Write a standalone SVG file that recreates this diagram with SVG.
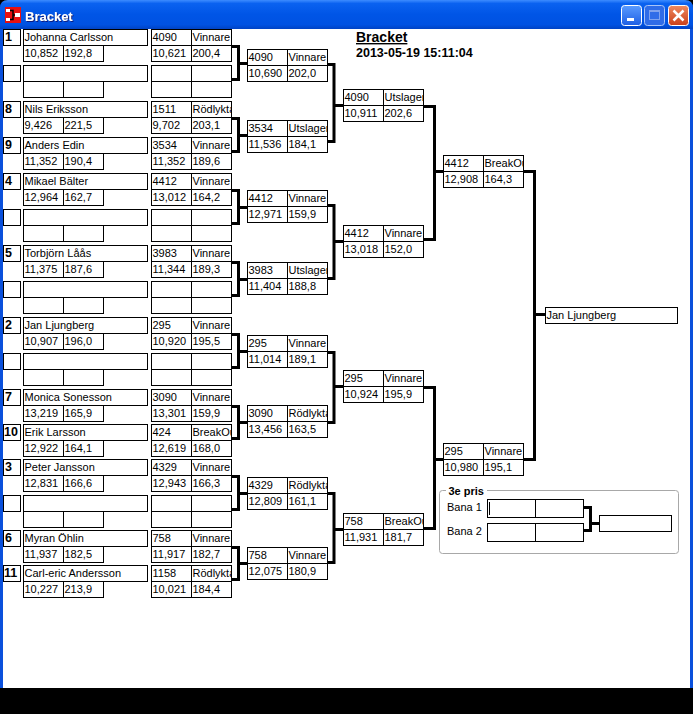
<svg xmlns="http://www.w3.org/2000/svg" width="693" height="714" viewBox="0 0 693 714">
<defs>
<style>
.c{fill:#fff;stroke:#000;stroke-width:1}
.t{font-family:"Liberation Sans",Arial,sans-serif;font-size:11px;fill:#000}
.s{font-family:"Liberation Sans",Arial,sans-serif;font-size:12.5px;font-weight:bold;fill:#000}
.ln{fill:none;stroke:#000;stroke-width:3;stroke-linejoin:miter;stroke-linecap:butt}
.w1{clip-path:url(#cw1)}.w2{clip-path:url(#cw2)}.w3{clip-path:url(#cw3)}.w4{clip-path:url(#cw4)}
</style>
<clipPath id="cw1" clipPathUnits="userSpaceOnUse"><rect x="192" y="0" width="39" height="714"/></clipPath>
<clipPath id="cw2" clipPathUnits="userSpaceOnUse"><rect x="288" y="0" width="39" height="714"/></clipPath>
<clipPath id="cw3" clipPathUnits="userSpaceOnUse"><rect x="384" y="0" width="39" height="714"/></clipPath>
<clipPath id="cw4" clipPathUnits="userSpaceOnUse"><rect x="484" y="0" width="39" height="714"/></clipPath>
<linearGradient id="tb" x1="0" y1="0" x2="0" y2="1">
<stop offset="0" stop-color="#3D8CFF"/><stop offset="0.12" stop-color="#0A62F0"/><stop offset="0.5" stop-color="#0055E6"/><stop offset="0.85" stop-color="#0052E2"/><stop offset="1" stop-color="#0043C4"/>
</linearGradient>
<linearGradient id="bb" x1="0" y1="0" x2="0" y2="1"><stop offset="0" stop-color="#5A9BFF"/><stop offset="1" stop-color="#1E5FE4"/></linearGradient>
<linearGradient id="bx" x1="0" y1="0" x2="0" y2="1"><stop offset="0" stop-color="#F08A60"/><stop offset="1" stop-color="#C9401A"/></linearGradient>
<filter id="sh" x="-10%" y="-10%" width="130%" height="140%"><feDropShadow dx="1" dy="1" stdDeviation="0" flood-color="#0A1E80"/></filter>
</defs>
<rect x="0" y="0" width="693" height="714" fill="#000"/>
<path d="M0 8Q0 0 8 0H685Q693 0 693 8V688H0Z" fill="#0A50DC"/>
<rect x="0" y="0" width="693" height="29" fill="url(#tb)"/>
<path d="M0 0H8Q0 0 0 8Z M693 0H685Q693 0 693 8Z" fill="#000"/>
<rect x="3" y="29" width="687" height="659" fill="#fff"/>
<g id="titlebar">
<rect x="5" y="7" width="16" height="16" fill="#E81010"/>
<rect x="6" y="9" width="4" height="3" fill="#fff"/><rect x="6" y="18" width="4" height="3" fill="#fff"/>
<path d="M10 10.5H13V19.5H10M13 15H15" fill="none" stroke="#000" stroke-width="1.5"/>
<rect x="15" y="13" width="5" height="4" fill="#fff"/>
<text x="25" y="21" font-family="Liberation Sans,Arial,sans-serif" font-size="13" font-weight="bold" fill="#fff" filter="url(#sh)">Bracket</text>
<rect x="621.5" y="5.5" width="20" height="20" rx="3" fill="url(#bb)" stroke="#fff"/>
<rect x="627" y="18" width="7" height="3" fill="#fff"/>
<rect x="644.5" y="5.5" width="20" height="20" rx="3" fill="#2F6CE8" stroke="#A8C4F8"/>
<rect x="649.5" y="10.5" width="10" height="9" fill="none" stroke="#7FA2EE"/><rect x="649" y="10" width="11" height="2" fill="#7FA2EE"/>
<rect x="668.5" y="5.5" width="20" height="20" rx="3" fill="url(#bx)" stroke="#fff"/>
<path d="M673.5 10.5L683.5 20.5M683.5 10.5L673.5 20.5" stroke="#fff" stroke-width="2.5"/>
</g>
<g id="heading">
<text x="356" y="42" font-family="Liberation Sans,Arial,sans-serif" font-size="14" font-weight="bold" text-decoration="underline">Bracket</text>
<text x="356" y="57" font-family="Liberation Sans,Arial,sans-serif" font-size="12.5" font-weight="bold">2013-05-19 15:11:04</text>
</g>

<g id="p0"><rect class="c" x="3.5" y="29.5" width="17" height="16"/><rect class="c" x="23.5" y="29.5" width="124" height="16"/><rect class="c" x="23.5" y="45.5" width="40" height="16"/><rect class="c" x="63.5" y="45.5" width="40" height="16"/><rect class="c" x="151.5" y="29.5" width="40" height="16"/><rect class="c" x="191.5" y="29.5" width="40" height="16"/><rect class="c" x="151.5" y="45.5" width="40" height="16"/><rect class="c" x="191.5" y="45.5" width="40" height="16"/>
<text class="s" x="5" y="41">1</text><text class="t" x="24.5" y="41">Johanna Carlsson</text><text class="t" x="24.5" y="57">10,852</text><text class="t" x="64.5" y="57">192,8</text><text class="t" x="152.5" y="41">4090</text><text class="t w1" x="192.5" y="41">Vinnare</text><text class="t" x="152.5" y="57">10,621</text><text class="t" x="192.5" y="57">200,4</text></g>

<g id="p1"><rect class="c" x="3.5" y="65.5" width="17" height="16"/><rect class="c" x="23.5" y="65.5" width="124" height="16"/><rect class="c" x="23.5" y="81.5" width="40" height="16"/><rect class="c" x="63.5" y="81.5" width="40" height="16"/><rect class="c" x="151.5" y="65.5" width="40" height="16"/><rect class="c" x="191.5" y="65.5" width="40" height="16"/><rect class="c" x="151.5" y="81.5" width="40" height="16"/><rect class="c" x="191.5" y="81.5" width="40" height="16"/></g>

<g id="p2"><rect class="c" x="3.5" y="101.5" width="17" height="16"/><rect class="c" x="23.5" y="101.5" width="124" height="16"/><rect class="c" x="23.5" y="117.5" width="40" height="16"/><rect class="c" x="63.5" y="117.5" width="40" height="16"/><rect class="c" x="151.5" y="101.5" width="40" height="16"/><rect class="c" x="191.5" y="101.5" width="40" height="16"/><rect class="c" x="151.5" y="117.5" width="40" height="16"/><rect class="c" x="191.5" y="117.5" width="40" height="16"/>
<text class="s" x="5" y="113">8</text><text class="t" x="24.5" y="113">Nils Eriksson</text><text class="t" x="24.5" y="129">9,426</text><text class="t" x="64.5" y="129">221,5</text><text class="t" x="152.5" y="113">1511</text><text class="t w1" x="192.5" y="113">Rödlykta</text><text class="t" x="152.5" y="129">9,702</text><text class="t" x="192.5" y="129">203,1</text></g>

<g id="p3"><rect class="c" x="3.5" y="137.5" width="17" height="16"/><rect class="c" x="23.5" y="137.5" width="124" height="16"/><rect class="c" x="23.5" y="153.5" width="40" height="16"/><rect class="c" x="63.5" y="153.5" width="40" height="16"/><rect class="c" x="151.5" y="137.5" width="40" height="16"/><rect class="c" x="191.5" y="137.5" width="40" height="16"/><rect class="c" x="151.5" y="153.5" width="40" height="16"/><rect class="c" x="191.5" y="153.5" width="40" height="16"/>
<text class="s" x="5" y="149">9</text><text class="t" x="24.5" y="149">Anders Edin</text><text class="t" x="24.5" y="165">11,352</text><text class="t" x="64.5" y="165">190,4</text><text class="t" x="152.5" y="149">3534</text><text class="t w1" x="192.5" y="149">Vinnare</text><text class="t" x="152.5" y="165">11,352</text><text class="t" x="192.5" y="165">189,6</text></g>

<g id="p4"><rect class="c" x="3.5" y="173.5" width="17" height="16"/><rect class="c" x="23.5" y="173.5" width="124" height="16"/><rect class="c" x="23.5" y="189.5" width="40" height="16"/><rect class="c" x="63.5" y="189.5" width="40" height="16"/><rect class="c" x="151.5" y="173.5" width="40" height="16"/><rect class="c" x="191.5" y="173.5" width="40" height="16"/><rect class="c" x="151.5" y="189.5" width="40" height="16"/><rect class="c" x="191.5" y="189.5" width="40" height="16"/>
<text class="s" x="5" y="185">4</text><text class="t" x="24.5" y="185">Mikael Bälter</text><text class="t" x="24.5" y="201">12,964</text><text class="t" x="64.5" y="201">162,7</text><text class="t" x="152.5" y="185">4412</text><text class="t w1" x="192.5" y="185">Vinnare</text><text class="t" x="152.5" y="201">13,012</text><text class="t" x="192.5" y="201">164,2</text></g>

<g id="p5"><rect class="c" x="3.5" y="209.5" width="17" height="16"/><rect class="c" x="23.5" y="209.5" width="124" height="16"/><rect class="c" x="23.5" y="225.5" width="40" height="16"/><rect class="c" x="63.5" y="225.5" width="40" height="16"/><rect class="c" x="151.5" y="209.5" width="40" height="16"/><rect class="c" x="191.5" y="209.5" width="40" height="16"/><rect class="c" x="151.5" y="225.5" width="40" height="16"/><rect class="c" x="191.5" y="225.5" width="40" height="16"/></g>

<g id="p6"><rect class="c" x="3.5" y="245.5" width="17" height="16"/><rect class="c" x="23.5" y="245.5" width="124" height="16"/><rect class="c" x="23.5" y="261.5" width="40" height="16"/><rect class="c" x="63.5" y="261.5" width="40" height="16"/><rect class="c" x="151.5" y="245.5" width="40" height="16"/><rect class="c" x="191.5" y="245.5" width="40" height="16"/><rect class="c" x="151.5" y="261.5" width="40" height="16"/><rect class="c" x="191.5" y="261.5" width="40" height="16"/>
<text class="s" x="5" y="257">5</text><text class="t" x="24.5" y="257">Torbjörn Låås</text><text class="t" x="24.5" y="273">11,375</text><text class="t" x="64.5" y="273">187,6</text><text class="t" x="152.5" y="257">3983</text><text class="t w1" x="192.5" y="257">Vinnare</text><text class="t" x="152.5" y="273">11,344</text><text class="t" x="192.5" y="273">189,3</text></g>

<g id="p7"><rect class="c" x="3.5" y="281.5" width="17" height="16"/><rect class="c" x="23.5" y="281.5" width="124" height="16"/><rect class="c" x="23.5" y="297.5" width="40" height="16"/><rect class="c" x="63.5" y="297.5" width="40" height="16"/><rect class="c" x="151.5" y="281.5" width="40" height="16"/><rect class="c" x="191.5" y="281.5" width="40" height="16"/><rect class="c" x="151.5" y="297.5" width="40" height="16"/><rect class="c" x="191.5" y="297.5" width="40" height="16"/></g>

<g id="p8"><rect class="c" x="3.5" y="317.5" width="17" height="16"/><rect class="c" x="23.5" y="317.5" width="124" height="16"/><rect class="c" x="23.5" y="333.5" width="40" height="16"/><rect class="c" x="63.5" y="333.5" width="40" height="16"/><rect class="c" x="151.5" y="317.5" width="40" height="16"/><rect class="c" x="191.5" y="317.5" width="40" height="16"/><rect class="c" x="151.5" y="333.5" width="40" height="16"/><rect class="c" x="191.5" y="333.5" width="40" height="16"/>
<text class="s" x="5" y="329">2</text><text class="t" x="24.5" y="329">Jan Ljungberg</text><text class="t" x="24.5" y="345">10,907</text><text class="t" x="64.5" y="345">196,0</text><text class="t" x="152.5" y="329">295</text><text class="t w1" x="192.5" y="329">Vinnare</text><text class="t" x="152.5" y="345">10,920</text><text class="t" x="192.5" y="345">195,5</text></g>

<g id="p9"><rect class="c" x="3.5" y="353.5" width="17" height="16"/><rect class="c" x="23.5" y="353.5" width="124" height="16"/><rect class="c" x="23.5" y="369.5" width="40" height="16"/><rect class="c" x="63.5" y="369.5" width="40" height="16"/><rect class="c" x="151.5" y="353.5" width="40" height="16"/><rect class="c" x="191.5" y="353.5" width="40" height="16"/><rect class="c" x="151.5" y="369.5" width="40" height="16"/><rect class="c" x="191.5" y="369.5" width="40" height="16"/></g>

<g id="p10"><rect class="c" x="3.5" y="389.5" width="17" height="16"/><rect class="c" x="23.5" y="389.5" width="124" height="16"/><rect class="c" x="23.5" y="405.5" width="40" height="16"/><rect class="c" x="63.5" y="405.5" width="40" height="16"/><rect class="c" x="151.5" y="389.5" width="40" height="16"/><rect class="c" x="191.5" y="389.5" width="40" height="16"/><rect class="c" x="151.5" y="405.5" width="40" height="16"/><rect class="c" x="191.5" y="405.5" width="40" height="16"/>
<text class="s" x="5" y="401">7</text><text class="t" x="24.5" y="401">Monica Sonesson</text><text class="t" x="24.5" y="417">13,219</text><text class="t" x="64.5" y="417">165,9</text><text class="t" x="152.5" y="401">3090</text><text class="t w1" x="192.5" y="401">Vinnare</text><text class="t" x="152.5" y="417">13,301</text><text class="t" x="192.5" y="417">159,9</text></g>

<g id="p11"><rect class="c" x="3.5" y="424.5" width="17" height="16"/><rect class="c" x="23.5" y="424.5" width="124" height="16"/><rect class="c" x="23.5" y="440.5" width="40" height="16"/><rect class="c" x="63.5" y="440.5" width="40" height="16"/><rect class="c" x="151.5" y="424.5" width="40" height="16"/><rect class="c" x="191.5" y="424.5" width="40" height="16"/><rect class="c" x="151.5" y="440.5" width="40" height="16"/><rect class="c" x="191.5" y="440.5" width="40" height="16"/>
<text class="s" x="4" y="436">10</text><text class="t" x="24.5" y="436">Erik Larsson</text><text class="t" x="24.5" y="452">12,922</text><text class="t" x="64.5" y="452">164,1</text><text class="t" x="152.5" y="436">424</text><text class="t w1" x="192.5" y="436">BreakOut</text><text class="t" x="152.5" y="452">12,619</text><text class="t" x="192.5" y="452">168,0</text></g>

<g id="p12"><rect class="c" x="3.5" y="459.5" width="17" height="16"/><rect class="c" x="23.5" y="459.5" width="124" height="16"/><rect class="c" x="23.5" y="475.5" width="40" height="16"/><rect class="c" x="63.5" y="475.5" width="40" height="16"/><rect class="c" x="151.5" y="459.5" width="40" height="16"/><rect class="c" x="191.5" y="459.5" width="40" height="16"/><rect class="c" x="151.5" y="475.5" width="40" height="16"/><rect class="c" x="191.5" y="475.5" width="40" height="16"/>
<text class="s" x="5" y="471">3</text><text class="t" x="24.5" y="471">Peter Jansson</text><text class="t" x="24.5" y="487">12,831</text><text class="t" x="64.5" y="487">166,6</text><text class="t" x="152.5" y="471">4329</text><text class="t w1" x="192.5" y="471">Vinnare</text><text class="t" x="152.5" y="487">12,943</text><text class="t" x="192.5" y="487">166,3</text></g>

<g id="p13"><rect class="c" x="3.5" y="495.5" width="17" height="16"/><rect class="c" x="23.5" y="495.5" width="124" height="16"/><rect class="c" x="23.5" y="511.5" width="40" height="16"/><rect class="c" x="63.5" y="511.5" width="40" height="16"/><rect class="c" x="151.5" y="495.5" width="40" height="16"/><rect class="c" x="191.5" y="495.5" width="40" height="16"/><rect class="c" x="151.5" y="511.5" width="40" height="16"/><rect class="c" x="191.5" y="511.5" width="40" height="16"/></g>

<g id="p14"><rect class="c" x="3.5" y="530.5" width="17" height="16"/><rect class="c" x="23.5" y="530.5" width="124" height="16"/><rect class="c" x="23.5" y="546.5" width="40" height="16"/><rect class="c" x="63.5" y="546.5" width="40" height="16"/><rect class="c" x="151.5" y="530.5" width="40" height="16"/><rect class="c" x="191.5" y="530.5" width="40" height="16"/><rect class="c" x="151.5" y="546.5" width="40" height="16"/><rect class="c" x="191.5" y="546.5" width="40" height="16"/>
<text class="s" x="5" y="542">6</text><text class="t" x="24.5" y="542">Myran Öhlin</text><text class="t" x="24.5" y="558">11,937</text><text class="t" x="64.5" y="558">182,5</text><text class="t" x="152.5" y="542">758</text><text class="t w1" x="192.5" y="542">Vinnare</text><text class="t" x="152.5" y="558">11,917</text><text class="t" x="192.5" y="558">182,7</text></g>

<g id="p15"><rect class="c" x="3.5" y="565.5" width="17" height="16"/><rect class="c" x="23.5" y="565.5" width="124" height="16"/><rect class="c" x="23.5" y="581.5" width="40" height="16"/><rect class="c" x="63.5" y="581.5" width="40" height="16"/><rect class="c" x="151.5" y="565.5" width="40" height="16"/><rect class="c" x="191.5" y="565.5" width="40" height="16"/><rect class="c" x="151.5" y="581.5" width="40" height="16"/><rect class="c" x="191.5" y="581.5" width="40" height="16"/>
<text class="s" x="4" y="577">11</text><text class="t" x="24.5" y="577">Carl-eric Andersson</text><text class="t" x="24.5" y="593">10,227</text><text class="t" x="64.5" y="593">213,9</text><text class="t" x="152.5" y="577">1158</text><text class="t w1" x="192.5" y="577">Rödlykta</text><text class="t" x="152.5" y="593">10,021</text><text class="t" x="192.5" y="593">184,4</text></g>

<g id="r2-0"><rect class="c" x="247.5" y="49.5" width="40" height="16"/><rect class="c" x="287.5" y="49.5" width="40" height="16"/><rect class="c" x="247.5" y="65.5" width="40" height="16"/><rect class="c" x="287.5" y="65.5" width="40" height="16"/>
<text class="t" x="248.5" y="61">4090</text><text class="t w2" x="288.5" y="61">Vinnare</text><text class="t" x="248.5" y="77">10,690</text><text class="t" x="288.5" y="77">202,0</text></g>
<g id="r2-1"><rect class="c" x="247.5" y="120.5" width="40" height="16"/><rect class="c" x="287.5" y="120.5" width="40" height="16"/><rect class="c" x="247.5" y="136.5" width="40" height="16"/><rect class="c" x="287.5" y="136.5" width="40" height="16"/>
<text class="t" x="248.5" y="132">3534</text><text class="t w2" x="288.5" y="132">Utslagen</text><text class="t" x="248.5" y="148">11,536</text><text class="t" x="288.5" y="148">184,1</text></g>
<g id="r2-2"><rect class="c" x="247.5" y="190.5" width="40" height="16"/><rect class="c" x="287.5" y="190.5" width="40" height="16"/><rect class="c" x="247.5" y="206.5" width="40" height="16"/><rect class="c" x="287.5" y="206.5" width="40" height="16"/>
<text class="t" x="248.5" y="202">4412</text><text class="t w2" x="288.5" y="202">Vinnare</text><text class="t" x="248.5" y="218">12,971</text><text class="t" x="288.5" y="218">159,9</text></g>
<g id="r2-3"><rect class="c" x="247.5" y="262.5" width="40" height="16"/><rect class="c" x="287.5" y="262.5" width="40" height="16"/><rect class="c" x="247.5" y="278.5" width="40" height="16"/><rect class="c" x="287.5" y="278.5" width="40" height="16"/>
<text class="t" x="248.5" y="274">3983</text><text class="t w2" x="288.5" y="274">Utslagen</text><text class="t" x="248.5" y="290">11,404</text><text class="t" x="288.5" y="290">188,8</text></g>
<g id="r2-4"><rect class="c" x="247.5" y="335.5" width="40" height="16"/><rect class="c" x="287.5" y="335.5" width="40" height="16"/><rect class="c" x="247.5" y="351.5" width="40" height="16"/><rect class="c" x="287.5" y="351.5" width="40" height="16"/>
<text class="t" x="248.5" y="347">295</text><text class="t w2" x="288.5" y="347">Vinnare</text><text class="t" x="248.5" y="363">11,014</text><text class="t" x="288.5" y="363">189,1</text></g>
<g id="r2-5"><rect class="c" x="247.5" y="405.5" width="40" height="16"/><rect class="c" x="287.5" y="405.5" width="40" height="16"/><rect class="c" x="247.5" y="421.5" width="40" height="16"/><rect class="c" x="287.5" y="421.5" width="40" height="16"/>
<text class="t" x="248.5" y="417">3090</text><text class="t w2" x="288.5" y="417">Rödlykta</text><text class="t" x="248.5" y="433">13,456</text><text class="t" x="288.5" y="433">163,5</text></g>
<g id="r2-6"><rect class="c" x="247.5" y="477.5" width="40" height="16"/><rect class="c" x="287.5" y="477.5" width="40" height="16"/><rect class="c" x="247.5" y="493.5" width="40" height="16"/><rect class="c" x="287.5" y="493.5" width="40" height="16"/>
<text class="t" x="248.5" y="489">4329</text><text class="t w2" x="288.5" y="489">Rödlykta</text><text class="t" x="248.5" y="505">12,809</text><text class="t" x="288.5" y="505">161,1</text></g>
<g id="r2-7"><rect class="c" x="247.5" y="547.5" width="40" height="16"/><rect class="c" x="287.5" y="547.5" width="40" height="16"/><rect class="c" x="247.5" y="563.5" width="40" height="16"/><rect class="c" x="287.5" y="563.5" width="40" height="16"/>
<text class="t" x="248.5" y="559">758</text><text class="t w2" x="288.5" y="559">Vinnare</text><text class="t" x="248.5" y="575">12,075</text><text class="t" x="288.5" y="575">180,9</text></g>

<g id="r3-0"><rect class="c" x="343.5" y="89.5" width="40" height="16"/><rect class="c" x="383.5" y="89.5" width="40" height="16"/><rect class="c" x="343.5" y="105.5" width="40" height="16"/><rect class="c" x="383.5" y="105.5" width="40" height="16"/>
<text class="t" x="344.5" y="101">4090</text><text class="t w3" x="384.5" y="101">Utslagen</text><text class="t" x="344.5" y="117">10,911</text><text class="t" x="384.5" y="117">202,6</text></g>
<g id="r3-1"><rect class="c" x="343.5" y="225.5" width="40" height="16"/><rect class="c" x="383.5" y="225.5" width="40" height="16"/><rect class="c" x="343.5" y="241.5" width="40" height="16"/><rect class="c" x="383.5" y="241.5" width="40" height="16"/>
<text class="t" x="344.5" y="237">4412</text><text class="t w3" x="384.5" y="237">Vinnare</text><text class="t" x="344.5" y="253">13,018</text><text class="t" x="384.5" y="253">152,0</text></g>
<g id="r3-2"><rect class="c" x="343.5" y="370.5" width="40" height="16"/><rect class="c" x="383.5" y="370.5" width="40" height="16"/><rect class="c" x="343.5" y="386.5" width="40" height="16"/><rect class="c" x="383.5" y="386.5" width="40" height="16"/>
<text class="t" x="344.5" y="382">295</text><text class="t w3" x="384.5" y="382">Vinnare</text><text class="t" x="344.5" y="398">10,924</text><text class="t" x="384.5" y="398">195,9</text></g>
<g id="r3-3"><rect class="c" x="343.5" y="513.5" width="40" height="16"/><rect class="c" x="383.5" y="513.5" width="40" height="16"/><rect class="c" x="343.5" y="529.5" width="40" height="16"/><rect class="c" x="383.5" y="529.5" width="40" height="16"/>
<text class="t" x="344.5" y="525">758</text><text class="t w3" x="384.5" y="525">BreakOut</text><text class="t" x="344.5" y="541">11,931</text><text class="t" x="384.5" y="541">181,7</text></g>

<g id="r4-0"><rect class="c" x="443.5" y="155.5" width="40" height="16"/><rect class="c" x="483.5" y="155.5" width="40" height="16"/><rect class="c" x="443.5" y="171.5" width="40" height="16"/><rect class="c" x="483.5" y="171.5" width="40" height="16"/>
<text class="t" x="444.5" y="167">4412</text><text class="t w4" x="484.5" y="167">BreakOut</text><text class="t" x="444.5" y="183">12,908</text><text class="t" x="484.5" y="183">164,3</text></g>
<g id="r4-1"><rect class="c" x="443.5" y="443.5" width="40" height="16"/><rect class="c" x="483.5" y="443.5" width="40" height="16"/><rect class="c" x="443.5" y="459.5" width="40" height="16"/><rect class="c" x="483.5" y="459.5" width="40" height="16"/>
<text class="t" x="444.5" y="455">295</text><text class="t w4" x="484.5" y="455">Vinnare</text><text class="t" x="444.5" y="471">10,980</text><text class="t" x="484.5" y="471">195,1</text></g>

<g id="final"><rect class="c" x="545.5" y="307.5" width="132" height="16"/><text class="t" x="546.5" y="319">Jan Ljungberg</text></g>

<g id="third">
<rect x="439.5" y="490.5" width="239" height="63" rx="3" fill="none" stroke="#A8A8A8"/>
<rect x="446" y="484" width="41" height="12" fill="#fff"/>
<text x="448.5" y="495" font-family="Liberation Sans,Arial,sans-serif" font-size="11" font-weight="bold">3e pris</text>
<text class="t" x="447" y="511">Bana 1</text>
<text class="t" x="447" y="535">Bana 2</text>
<rect class="c" x="487.5" y="499.5" width="48" height="18"/><rect class="c" x="535.5" y="499.5" width="48" height="18"/>
<rect class="c" x="487.5" y="523.5" width="48" height="18"/><rect class="c" x="535.5" y="523.5" width="48" height="18"/>
<path d="M489.5 502V515" stroke="#000" stroke-width="1"/>
<rect class="c" x="599.5" y="515.5" width="72" height="16"/>
</g>

<g id="connectors">
<path class="ln" d="M231 46.5H238.5V79.5H231M238.5 63.5H247"/>
<path class="ln" d="M231 118.5H238.5V151.5H231M238.5 135.5H247"/>
<path class="ln" d="M231 190.5H238.5V223.5H231M238.5 207.5H247"/>
<path class="ln" d="M231 262.5H238.5V295.5H231M238.5 279.5H247"/>
<path class="ln" d="M231 334.5H238.5V367.5H231M238.5 351.5H247"/>
<path class="ln" d="M231 406.5H238.5V438.5H231M238.5 422.5H247"/>
<path class="ln" d="M231 476.5H238.5V509.5H231M238.5 493.5H247"/>
<path class="ln" d="M231 547.5H238.5V579.5H231M238.5 563.5H247"/>
<path class="ln" d="M327 64.5H334V141.5H327M334 105.5H343"/>
<path class="ln" d="M327 205.5H334V278.5H327M334 241.5H343"/>
<path class="ln" d="M327 352.5H334V422.5H327M334 386.5H343"/>
<path class="ln" d="M327 493.5H334V562.5H327M334 529.5H343"/>
<path class="ln" d="M423 106.5H434.5V239.5H423M434.5 171.5H443"/>
<path class="ln" d="M423 387.5H434.5V528.5H423M434.5 459.5H443"/>
<path class="ln" d="M523 171.5H534.5V459.5H523M534.5 314.5H545"/>
<path class="ln" d="M583 507.5H590.5V530.5H583M590.5 523.5H599"/>
</g>
</svg>
